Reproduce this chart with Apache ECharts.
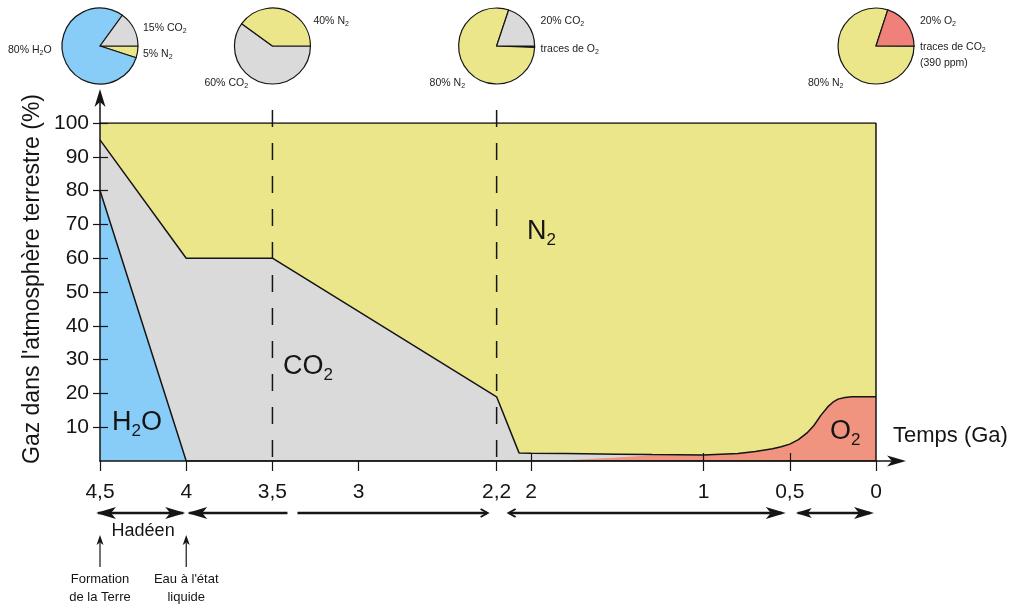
<!DOCTYPE html>
<html><head><meta charset="utf-8">
<script src="https://cdn.jsdelivr.net/npm/echarts@6/dist/echarts.min.js"></script>
<style>html,body{margin:0;padding:0;background:#fff}#c{width:1012px;height:607px}</style>
</head><body><div id="c"></div>
<script>
// ---------- data ----------
const ages = [4.5, 4.0, 3.5, 2.2, 2.07, 2.0, 1.8, 1.5, 1.3, 1.0, 0.8, 0.7, 0.6, 0.55, 0.5, 0.45, 0.4, 0.36, 0.32, 0.28, 0.25, 0.22, 0.18, 0.14, 0.1, 0];
const h2o = [80, 0, 0, 0, 0, 0, 0, 0, 0, 0, 0, 0, 0, 0, 0, 0, 0, 0, 0, 0, 0, 0, 0, 0, 0, 0];
const o2  = [0, 0, 0, 0, 0, 0, 0.2, 1.0, 1.7, 1.8, 2.2, 2.8, 3.6, 4.2, 5.0, 6.3, 8.3, 10.5, 13.5, 16.0, 17.4, 18.3, 18.8, 19, 19, 19];
const co2 = [15, 60, 60, 19, 2.4, 2.3, 2.0, 1.0, 0.2, 0, 0, 0, 0, 0, 0, 0, 0, 0, 0, 0, 0, 0, 0, 0, 0, 0];
const n2  = [5, 40, 40, 81, 97.6, 97.7, 97.8, 98, 98.1, 98.2, 97.8, 97.2, 96.4, 95.8, 95, 93.7, 91.7, 89.5, 86.5, 84.0, 82.6, 81.7, 81.2, 81, 81, 81];

const xTicks = [4.5, 4, 3.5, 3, 2.2, 2, 1, 0.5, 0];
const xInnerTicks = [2, 1, 0.5];
const yTicks = [10, 20, 30, 40, 50, 60, 70, 80, 90, 100];

// pies (at 4.5, 3.5, 2.2 and 0 Ga)
const pieAges = [4.5, 3.5, 2.2, 0];
const pie1Names = ['N₂', 'H₂O', 'CO₂'];        const pie1Values = [5, 80, 15];
const pie2Names = ['CO₂', 'N₂'];               const pie2Values = [60, 40];
const pie3Names = ['O₂', 'N₂', 'CO₂'];         const pie3Values = [0.6, 80, 20];
const pie4Names = ['CO₂', 'N₂', 'O₂'];         const pie4Values = [0.039, 80, 20];

// ---------- style ----------
const FONT = '"Liberation Sans", Arial, Helvetica, sans-serif';
const INK = '#151515';
const BLUE = '#88cdf8', GRAY = '#dadada', YELLOW = '#ece68b', RED = '#f0937f', PIERED = '#ef807a';
const gasColor = {'H₂O': BLUE, 'CO₂': GRAY, 'N₂': YELLOW, 'O₂': PIERED};

// cumulative tops (bottom to top: H2O, O2, CO2, N2)
const topH2O = h2o.slice();
const topO2 = h2o.map((v, i) => v + o2[i]);
const topCO2 = topO2.map((v, i) => v + co2[i]);
const topN2 = topCO2.map((v, i) => v + n2[i]);

const chart = echarts.init(document.getElementById('c'), null, {renderer: 'canvas'});

function pairs(vals) { return ages.map((a, i) => [a, vals[i]]); }
function area(name, vals, color, z) {
  return {type: 'line', name, z, silent: true, symbol: 'none', data: pairs(vals),
    areaStyle: {color, opacity: 1}, itemStyle: {color}, lineStyle: {width: 0, opacity: 0}};
}
function edge(name, vals, z) {
  return {type: 'line', name, z, silent: true, symbol: 'none', data: pairs(vals),
    lineStyle: {color: INK, width: 1.5}, itemStyle: {color: INK}};
}

const GRID = {left: 100, right: 136, top: 123, bottom: 146};
const option = {
  animation: false,
  backgroundColor: '#fff',
  grid: [Object.assign({show: false}, GRID), Object.assign({show: false}, GRID)],
  xAxis: [{
    gridIndex: 0, type: 'value', min: 0, max: 4.5, inverse: true, z: 10,
    axisLine: {show: true, onZero: false, lineStyle: {color: INK, width: 1.5}},
    axisTick: {show: true, length: 10, customValues: xTicks, lineStyle: {color: INK, width: 1.2}},
    axisLabel: {customValues: xTicks, formatter: v => String(v).replace('.', ','), fontSize: 21, color: INK, fontFamily: FONT, margin: 21},
    splitLine: {show: false}
  }, {
    gridIndex: 1, type: 'value', min: 0, max: 4.5, inverse: true, position: 'bottom', z: 10,
    axisLine: {show: false, onZero: false}, axisLabel: {show: false},
    axisTick: {show: true, inside: true, length: 8, customValues: xInnerTicks, lineStyle: {color: INK, width: 1.2}},
    splitLine: {show: false}
  }],
  yAxis: [{
    gridIndex: 0, type: 'value', min: 0, max: 100, interval: 10, position: 'left', z: 10,
    axisLine: {show: true, onZero: false, lineStyle: {color: INK, width: 1.5}},
    axisTick: {show: true, length: 7, customValues: yTicks, lineStyle: {color: INK, width: 1.2}},
    axisLabel: {customValues: yTicks, fontSize: 21, color: INK, fontFamily: FONT, margin: 11},
    splitLine: {show: false}
  }, {
    gridIndex: 1, type: 'value', min: 0, max: 100, interval: 10, position: 'left', z: 10,
    axisLine: {show: false, onZero: false}, axisLabel: {show: false},
    axisTick: {show: true, inside: true, length: 8, customValues: yTicks, lineStyle: {color: INK, width: 1.2}},
    splitLine: {show: false}
  }],
  series: [
    Object.assign(area('N₂', topN2, YELLOW, 2), {lineStyle: {color: INK, width: 1.5}}),
    area('CO₂', topCO2, GRAY, 3),
    area('O₂', topO2, RED, 4),
    area('H₂O', topH2O, BLUE, 5),
    edge('limite CO₂', topCO2, 6),
    edge('limite H₂O', topH2O, 6)
  ]
};
chart.setOption(option);

const px = v => chart.convertToPixel({xAxisIndex: 0}, v);
const py = v => chart.convertToPixel({yAxisIndex: 0}, v);

// ---------- pies ----------
const PIE_Y = 46, PIE_R = 38;
function pie(ageVal, names, values) {
  return {
    type: 'pie', center: [px(ageVal), PIE_Y], radius: PIE_R, startAngle: 0, clockwise: true,
    silent: true, label: {show: false}, labelLine: {show: false}, emphasis: {disabled: true},
    itemStyle: {borderColor: INK, borderWidth: 1.2},
    data: names.map((n, i) => ({name: n, value: values[i], itemStyle: {color: gasColor[n]}})),
    z: 5
  };
}
option.series.push(
  pie(pieAges[0], pie1Names, pie1Values),
  pie(pieAges[1], pie2Names, pie2Values),
  pie(pieAges[2], pie3Names, pie3Values),
  pie(pieAges[3], pie4Names, pie4Values)
);

// ---------- annotations ----------
const smallRich = {
  m: {fontSize: 10.5, fontFamily: FONT, fill: '#222', color: '#222', lineHeight: 12},
  s: {fontSize: 7, fontFamily: FONT, fill: '#222', color: '#222', lineHeight: 7, padding: [7, 0, 0, 0]}
};
const bigRich = {
  m: {fontSize: 27, fontFamily: FONT, fill: INK, color: INK, lineHeight: 30},
  s: {fontSize: 17, fontFamily: FONT, fill: INK, color: INK, lineHeight: 17, padding: [16, 0, 0, 0]}
};
function rt(x, y, text, rich, align) {
  return {type: 'text', x, y, z: 100, silent: true,
    style: {text, rich, align: align || 'left', textAlign: align || 'left', verticalAlign: 'middle', textVerticalAlign: 'middle', fill: '#222'}};
}
function plain(x, y, text, size, align, rot) {
  const el = {type: 'text', x, y, z: 100, silent: true,
    style: {text, font: size + 'px ' + FONT, fontSize: size, fontFamily: FONT, fill: INK,
      align: align || 'left', textAlign: align || 'left', verticalAlign: 'middle', textVerticalAlign: 'middle'}};
  if (rot) el.rotation = rot;
  return el;
}
function line(x1, y1, x2, y2, w, dash) {
  const st = {stroke: INK, lineWidth: w || 1.5};
  if (dash) st.lineDash = dash;
  return {type: 'line', z: 100, silent: true, shape: {x1, y1, x2, y2}, style: st};
}
function head(tx, ty, dir, len, hw, notch) {
  len = len || 18; hw = hw || 6; notch = notch || 5;
  let pts;
  if (dir === 'right') pts = [[tx, ty], [tx - len, ty - hw], [tx - len + notch, ty], [tx - len, ty + hw]];
  else if (dir === 'left') pts = [[tx, ty], [tx + len, ty - hw], [tx + len - notch, ty], [tx + len, ty + hw]];
  else pts = [[tx, ty], [tx - hw, ty + len], [tx, ty + len - notch], [tx + hw, ty + len]];
  return {type: 'polygon', z: 101, silent: true, shape: {points: pts}, style: {fill: INK}};
}
function chevron(tx, ty, dir) {
  const d = dir === 'right' ? -1 : 1;
  return {type: 'polyline', z: 101, silent: true,
    shape: {points: [[tx + d * 7, ty - 4], [tx, ty], [tx + d * 7, ty + 4]]},
    style: {stroke: INK, lineWidth: 2, fill: null}};
}

const x0 = px(0), x45 = px(4.5), x4 = px(4), x35 = px(3.5), x22 = px(2.2), x05 = px(0.5);
const yTop = py(100), yBot = py(0);
const g = [];
// right frame edge
g.push(line(x0, yTop, x0, yBot, 1.5));
// axis arrows
g.push(line(x45, yTop, x45, 100, 1.5), head(x45, 89, 'up', 18, 5.5, 5));
g.push(line(x0, yBot, 892, yBot, 1.5), head(906, yBot, 'right', 19, 5.5, 5));
// dashed markers at 3.5 and 2.2 Ga
g.push(line(x35, 110, x35, yBot, 1.5, [17, 16]), line(x22, 110, x22, yBot, 1.5, [17, 16]));
// in-chart gas labels
g.push(rt(112, 423, '{m|H}{s|2}{m|O}', bigRich));
g.push(rt(283, 367, '{m|CO}{s|2}', bigRich));
g.push(rt(527, 232, '{m|N}{s|2}', bigRich));
g.push(rt(830, 432, '{m|O}{s|2}', bigRich));
// axis titles
g.push(plain(893, 436, 'Temps (Ga)', 22, 'left'));
g.push(plain(33, 279, "Gaz dans l'atmosphère terrestre (%)", 23, 'center', Math.PI / 2));
// period arrows
const AY = 513;
g.push(line(x45 - 2, AY, x4 - 3, AY, 2.5), head(x45 - 4, AY, 'left', 20, 6, 5), head(x4 - 1, AY, 'right', 20, 6, 5));
g.push(line(x4 + 3, AY, x35 + 15, AY, 2.5), head(x4 + 1, AY, 'left', 20, 6, 5));
g.push(line(x35 + 25, AY, x22 - 10, AY, 2.5), chevron(x22 - 9, AY, 'right'));
g.push(line(x22 + 13, AY, x05 - 8, AY, 2.5), chevron(x22 + 12, AY, 'left'), head(x05 - 4, AY, 'right', 20, 6, 5));
g.push(line(x05 + 8, AY, x0 - 6, AY, 2.5), head(x05 + 6, AY, 'left', 16, 5, 4), head(x0 - 2, AY, 'right', 20, 6, 5));
g.push(plain((x45 + x4) / 2, 531, 'Hadéen', 18, 'center'));
// event arrows
g.push(line(x45, 567, x45, 543, 1.2), head(x45, 535, 'up', 10, 3.5, 2.5));
g.push(line(x4, 567, x4, 543, 1.2), head(x4, 535, 'up', 10, 3.5, 2.5));
g.push(plain(x45, 579, 'Formation', 13, 'center'), plain(x45, 597, 'de la Terre', 13, 'center'));
g.push(plain(x4, 579, "Eau à l'état", 13, 'center'), plain(x4, 597, 'liquide', 13, 'center'));
// pie labels
const c1 = px(pieAges[0]), c2 = px(pieAges[1]), c3 = px(pieAges[2]), c4 = px(pieAges[3]);
g.push(rt(c1 - 92, 50, '{m|80% H}{s|2}{m|O}', smallRich));
g.push(rt(c1 + 43, 28, '{m|15% CO}{s|2}', smallRich));
g.push(rt(c1 + 43, 54, '{m|5% N}{s|2}', smallRich));
g.push(rt(c2 + 41, 21, '{m|40% N}{s|2}', smallRich));
g.push(rt(c2 - 68, 83, '{m|60% CO}{s|2}', smallRich));
g.push(rt(c3 + 44, 21, '{m|20% CO}{s|2}', smallRich));
g.push(rt(c3 + 44, 49, '{m|traces de O}{s|2}', smallRich));
g.push(rt(c3 - 67, 83, '{m|80% N}{s|2}', smallRich));
g.push(rt(c4 + 44, 21, '{m|20% O}{s|2}', smallRich));
g.push(rt(c4 + 44, 47, '{m|traces de CO}{s|2}', smallRich));
g.push(rt(c4 + 44, 63, '{m|(390 ppm)}', smallRich));
g.push(rt(c4 - 68, 83, '{m|80% N}{s|2}', smallRich));

option.graphic = {elements: g};
chart.setOption(option);
</script>
</body></html>
